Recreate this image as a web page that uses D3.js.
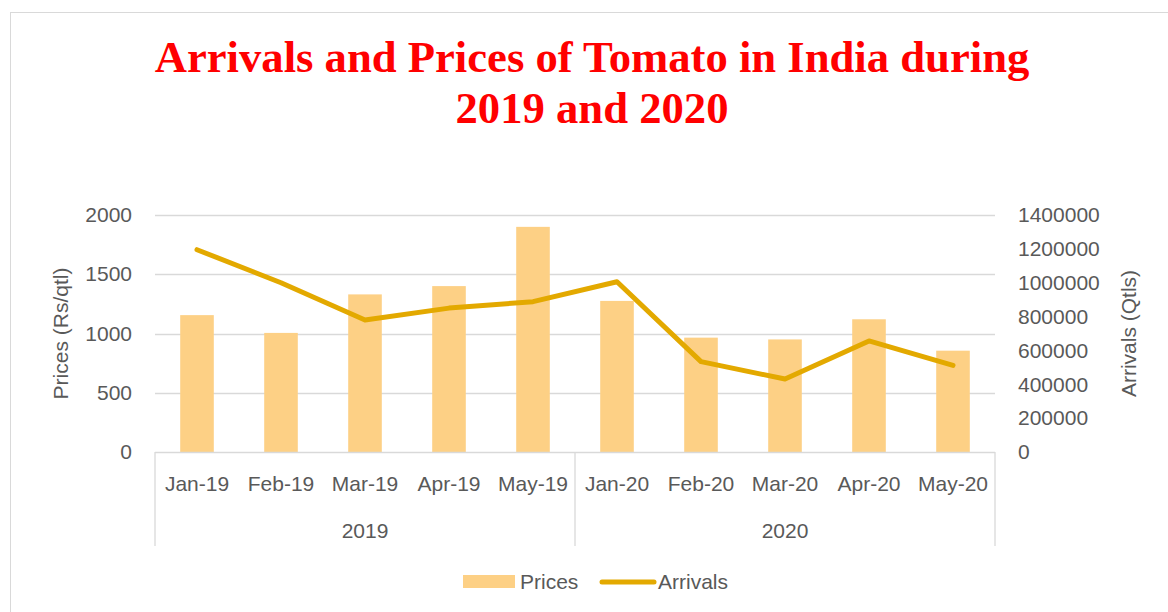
<!DOCTYPE html>
<html lang="en">
<head>
  <meta charset="UTF-8">
  <title>Arrivals and Prices of Tomato</title>
  <script src="https://cdn.jsdelivr.net/npm/d3@7/dist/d3.min.js"></script>
  <style>
    body { margin: 0; background: #fff; }
    text { font-family: "Liberation Sans", Arial, sans-serif; }
  </style>
</head>
<body>
  <svg width="1168" height="612" id="main"></svg>
<script>
  // data
  const months = ['Jan-19', 'Feb-19', 'Mar-19', 'Apr-19', 'May-19', 'Jan-20', 'Feb-20', 'Mar-20', 'Apr-20', 'May-20'];
  const years = ['2019', '2020'];
  const prices = [1155, 1005, 1330, 1400, 1900, 1275, 965, 950, 1120, 855];
  const arrivals = [1195000, 1000000, 780000, 850000, 888000, 1006000, 534000, 431000, 656000, 512000];
  const priceTicks = [0, 500, 1000, 1500, 2000];
  const arrivalTicks = [0, 200000, 400000, 600000, 800000, 1000000, 1200000, 1400000];

  const svg = d3.select('#main');
  const m = { left: 155, right: 995, top: 215, bottom: 452 };
  const grid = '#d9d9d9';
  const ink = '#595959';

  // chart border
  svg.append('rect')
    .attr('x', 10.5).attr('y', 12.5)
    .attr('width', 1168).attr('height', 620)
    .attr('fill', 'none').attr('stroke', grid);

  const x = d3.scaleBand().domain(months).range([m.left, m.right])
    .paddingInner(0.6).paddingOuter(0.3);
  const yL = d3.scaleLinear().domain([0, 2000]).range([m.bottom, m.top]);
  const yR = d3.scaleLinear().domain([0, 1400000]).range([m.bottom, m.top]);

  // gridlines
  svg.append('g').selectAll('line').data(priceTicks.slice(1)).join('line')
    .attr('x1', m.left).attr('x2', m.right)
    .attr('y1', d => Math.round(yL(d)) + 0.5).attr('y2', d => Math.round(yL(d)) + 0.5)
    .attr('stroke', grid).attr('stroke-width', 1.3);

  // left axis
  const axL = svg.append('g').attr('transform', `translate(${m.left - 23},0)`)
    .call(d3.axisLeft(yL).tickValues(priceTicks).tickSize(0).tickPadding(0).tickFormat(d3.format('d')));
  axL.select('.domain').remove();
  axL.selectAll('text').attr('fill', ink).attr('font-size', 21)
    .attr('font-family', '"Liberation Sans", Arial, sans-serif');

  // right axis
  const axR = svg.append('g').attr('transform', `translate(${m.right + 23},0)`)
    .call(d3.axisRight(yR).tickValues(arrivalTicks).tickSize(0).tickPadding(0).tickFormat(d3.format('d')));
  axR.select('.domain').remove();
  axR.selectAll('text').attr('fill', ink).attr('font-size', 21)
    .attr('font-family', '"Liberation Sans", Arial, sans-serif');

  // bars
  svg.append('g').selectAll('rect').data(prices).join('rect')
    .attr('x', (d, i) => x(months[i]))
    .attr('y', d => yL(d))
    .attr('width', x.bandwidth())
    .attr('height', d => yL(0) - yL(d))
    .attr('fill', '#fdd085');

  // category box
  const box = svg.append('g').attr('stroke', grid).attr('stroke-width', 1.3);
  box.append('line').attr('x1', m.left).attr('x2', m.right)
    .attr('y1', m.bottom + 0.5).attr('y2', m.bottom + 0.5);
  const mid = x(months[5]) - x.step() * x.paddingInner() / 2;
  [m.left, mid, m.right].forEach(v => {
    box.append('line').attr('x1', v).attr('x2', v)
      .attr('y1', m.bottom).attr('y2', 546);
  });

  // month labels
  svg.append('g').selectAll('text').data(months).join('text')
    .attr('x', d => x(d) + x.bandwidth() / 2)
    .attr('y', 491)
    .attr('text-anchor', 'middle')
    .attr('fill', ink).attr('font-size', 21)
    .text(d => d);

  // year labels
  svg.append('g').selectAll('text').data(years).join('text')
    .attr('x', (d, i) => i === 0 ? (m.left + mid) / 2 : (mid + m.right) / 2)
    .attr('y', 538)
    .attr('text-anchor', 'middle')
    .attr('fill', ink).attr('font-size', 21)
    .text(d => d);

  // arrivals line
  const line = d3.line()
    .x((d, i) => x(months[i]) + x.bandwidth() / 2)
    .y(d => yR(d));
  svg.append('path').datum(arrivals)
    .attr('d', line)
    .attr('fill', 'none')
    .attr('stroke', '#e3a900')
    .attr('stroke-width', 5)
    .attr('stroke-linecap', 'round')
    .attr('stroke-linejoin', 'round');

  // axis titles
  svg.append('text')
    .attr('transform', `translate(68,${(m.top + m.bottom) / 2}) rotate(-90)`)
    .attr('text-anchor', 'middle')
    .attr('fill', ink).attr('font-size', 21)
    .text('Prices (Rs/qtl)');
  svg.append('text')
    .attr('transform', `translate(1136,${(m.top + m.bottom) / 2}) rotate(-90)`)
    .attr('text-anchor', 'middle')
    .attr('fill', ink).attr('font-size', 21)
    .text('Arrivals (Qtls)');

  // title, sized to the width of the first line
  const title = svg.append('g').attr('fill', '#ff0000')
    .attr('font-weight', 'bold').attr('text-anchor', 'middle');
  const t1 = title.append('text').attr('x', 592).attr('y', 72)
    .style('font-family', '"Liberation Serif", "DejaVu Serif", serif')
    .attr('font-size', 40).text('Arrivals and Prices of Tomato in India during');
  const fs = 40 * 875 / t1.node().getComputedTextLength();
  t1.attr('font-size', fs);
  title.append('text').attr('x', 592).attr('y', 123)
    .style('font-family', '"Liberation Serif", "DejaVu Serif", serif')
    .attr('font-size', fs).text('2019 and 2020');

  // legend
  const lg = svg.append('g');
  lg.append('rect').attr('x', 463).attr('y', 575).attr('width', 52).attr('height', 13).attr('fill', '#fdd085');
  lg.append('text').attr('x', 520).attr('y', 589).attr('fill', ink).attr('font-size', 21).text('Prices');
  lg.append('line').attr('x1', 602).attr('x2', 654).attr('y1', 582).attr('y2', 582)
    .attr('stroke', '#e3a900').attr('stroke-width', 5).attr('stroke-linecap', 'round');
  lg.append('text').attr('x', 658).attr('y', 589).attr('fill', ink).attr('font-size', 21).text('Arrivals');
</script>
</body>
</html>
